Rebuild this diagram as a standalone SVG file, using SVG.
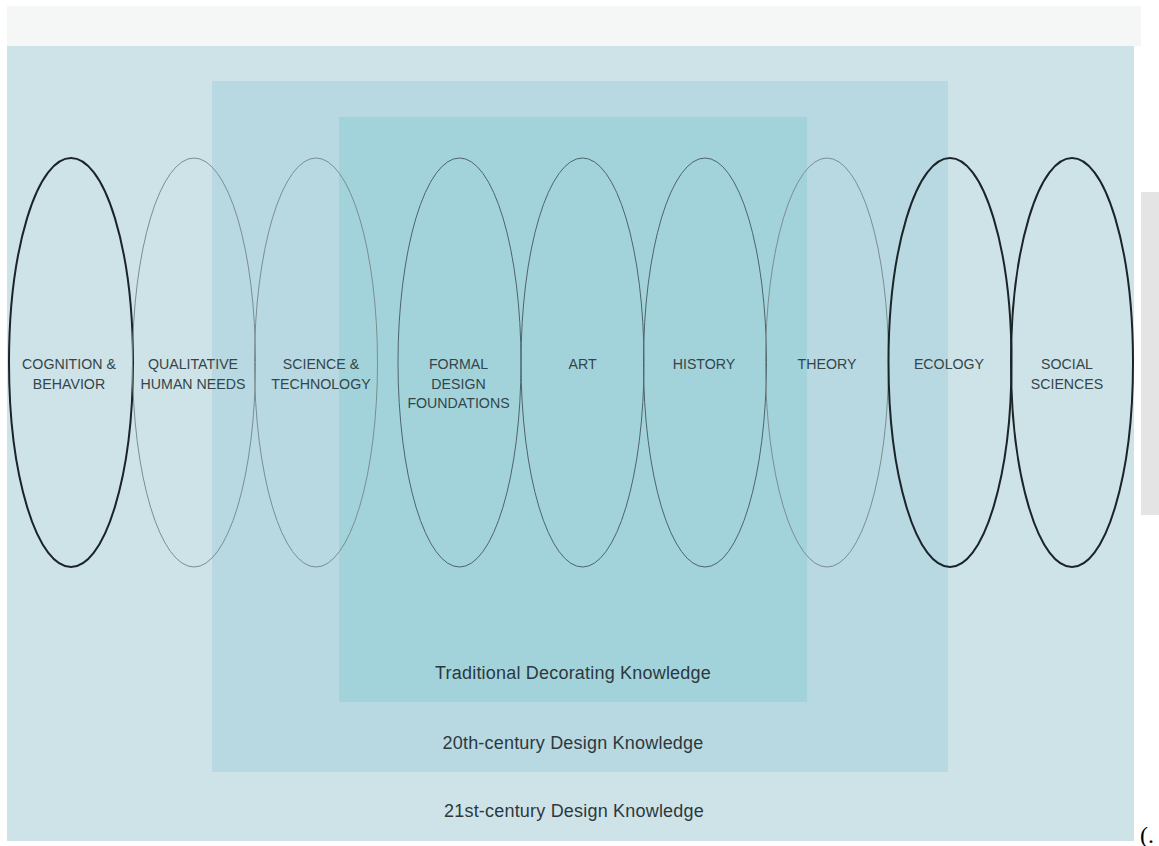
<svg xmlns="http://www.w3.org/2000/svg" width="1159" height="846" viewBox="0 0 1159 846">
  <style>
    .lbl { font-family: "Liberation Sans", Arial, sans-serif; font-size: 14.2px; fill: #34454b; text-anchor: middle; }
    .cap { font-family: "Liberation Sans", Arial, sans-serif; font-size: 18px; letter-spacing: 0.2px; fill: #2c383e; text-anchor: middle; }
    .bold { fill: none; stroke: #1b2428; stroke-width: 2; }
    .thinL { fill: none; stroke: #7b8d92; stroke-width: 1; }
    .thinD { fill: none; stroke: #4e636b; stroke-width: 1; }
  </style>
  <rect x="0" y="0" width="1159" height="846" fill="#ffffff"/>
  <rect x="7" y="6" width="1134" height="40" fill="#f5f6f6"/>
  <rect x="1141" y="192" width="18" height="323" fill="#e4e4e5"/>

  <g id="zone-21st">
    <rect x="7" y="46" width="1127" height="795" fill="#cee3e8"/>
    <text class="cap" x="574" y="817">21st-century Design Knowledge</text>
  </g>
  <g id="zone-20th">
    <rect x="212" y="81" width="736" height="691" fill="#b8d9e1"/>
    <text class="cap" x="573" y="749">20th-century Design Knowledge</text>
  </g>
  <g id="zone-traditional">
    <rect x="339" y="117" width="468" height="585" fill="#a3d3da"/>
    <text class="cap" x="573" y="679">Traditional Decorating Knowledge</text>
  </g>

  <g id="connectors"></g>

  <g id="node-cognition">
    <ellipse class="bold" cx="71" cy="362.5" rx="62" ry="204.5"/>
    <text class="lbl" x="69" y="369">COGNITION &amp;</text>
    <text class="lbl" x="69" y="388.5">BEHAVIOR</text>
  </g>
  <g id="node-qualitative">
    <ellipse class="thinL" cx="194" cy="362.5" rx="61.5" ry="204.5"/>
    <text class="lbl" x="193" y="369">QUALITATIVE</text>
    <text class="lbl" x="193" y="388.5">HUMAN NEEDS</text>
  </g>
  <g id="node-science">
    <ellipse class="thinL" cx="316" cy="362.5" rx="61.5" ry="204.5"/>
    <text class="lbl" x="321" y="369">SCIENCE &amp;</text>
    <text class="lbl" x="321" y="388.5">TECHNOLOGY</text>
  </g>
  <g id="node-formal">
    <ellipse class="thinD" cx="459.5" cy="362.5" rx="61.5" ry="204.5"/>
    <text class="lbl" x="458.5" y="369">FORMAL</text>
    <text class="lbl" x="458.5" y="388.5">DESIGN</text>
    <text class="lbl" x="458.5" y="408">FOUNDATIONS</text>
  </g>
  <g id="node-art">
    <ellipse class="thinD" cx="582.5" cy="362.5" rx="61.5" ry="204.5"/>
    <text class="lbl" x="582.5" y="369">ART</text>
  </g>
  <g id="node-history">
    <ellipse class="thinD" cx="705" cy="362.5" rx="61.5" ry="204.5"/>
    <text class="lbl" x="704" y="369">HISTORY</text>
  </g>
  <g id="node-theory">
    <ellipse class="thinL" cx="827" cy="362.5" rx="61.5" ry="204.5"/>
    <text class="lbl" x="827" y="369">THEORY</text>
  </g>
  <g id="node-ecology">
    <ellipse class="bold" cx="950" cy="362.5" rx="61.5" ry="204.5"/>
    <text class="lbl" x="949" y="369">ECOLOGY</text>
  </g>
  <g id="node-social">
    <ellipse class="bold" cx="1072" cy="362.5" rx="61" ry="204.5"/>
    <text class="lbl" x="1067" y="369">SOCIAL</text>
    <text class="lbl" x="1067" y="388.5">SCIENCES</text>
  </g>

  <text x="1140" y="843" font-family="Liberation Serif, Times New Roman, serif" font-size="24" fill="#000000">(.</text>
</svg>
